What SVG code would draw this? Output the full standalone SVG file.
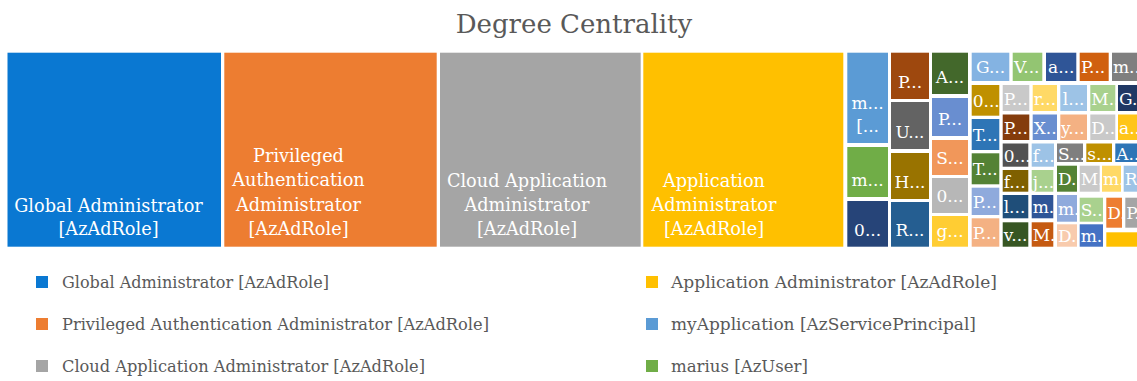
<svg xmlns="http://www.w3.org/2000/svg" width="1137" height="381" viewBox="0 0 1137 381">
<style>
text{font-family:"DejaVu Serif","Liberation Serif",serif}
.title{font-size:26px;fill:#595959;text-anchor:middle}
.lbl{font-size:17.7px;fill:#fff;text-anchor:middle}
.s{font-size:17px;fill:#fff}
.m{text-anchor:middle}
.leg{font-size:16.3px;fill:#595959}
</style>
<rect width="1137" height="381" fill="#fff"/>
<text class="title" x="574" y="33">Degree Centrality</text>
<g id="connectors"/>
<g id="n-global"><rect x="7.5" y="52.7" width="213.5" height="194" fill="#0A78D2"/>
<text class="lbl" x="108.5" y="211.5">Global Administrator</text><text class="lbl" x="108.5" y="235">[AzAdRole]</text></g>
<g id="n-privauth"><rect x="224.3" y="52.7" width="212.4" height="194" fill="#ED7D31"/>
<text class="lbl" x="298.5" y="162">Privileged</text><text class="lbl" x="298.5" y="186.3">Authentication</text><text class="lbl" x="298.5" y="210.6">Administrator</text><text class="lbl" x="298.5" y="235">[AzAdRole]</text></g>
<g id="n-cloudapp"><rect x="440" y="52.7" width="200.7" height="194" fill="#A5A5A5"/>
<text class="lbl" x="527" y="187">Cloud Application</text><text class="lbl" x="527" y="211">Administrator</text><text class="lbl" x="527" y="235">[AzAdRole]</text></g>
<g id="n-appadmin"><rect x="643.3" y="52.7" width="200" height="194" fill="#FFC000"/>
<text class="lbl" x="714" y="187">Application</text><text class="lbl" x="714" y="211">Administrator</text><text class="lbl" x="714" y="235">[AzAdRole]</text></g>
<g id="n-myapp"><rect x="847.3" y="52.7" width="40.7" height="90.3" fill="#5B9BD5"/><text class="s m" x="867.6" y="108.5">m...</text><text class="s m" x="867.6" y="132">[...</text></g>
<g id="n-marius"><rect x="847.3" y="147" width="40.7" height="50" fill="#70AD47"/><text class="s m" x="867.6" y="186">m...</text></g>
<g id="n-t3"><rect x="847.3" y="201" width="40.7" height="45.7" fill="#264478"/><text class="s m" x="867.6" y="235.7">0...</text></g>
<g id="n-t4"><rect x="891" y="52.7" width="38" height="46.3" fill="#9E480E"/><text class="s m" x="910" y="88">P...</text></g>
<g id="n-t5"><rect x="891" y="102" width="38" height="47" fill="#636363"/><text class="s m" x="910" y="137.5">U...</text></g>
<g id="n-t6"><rect x="891" y="153" width="38" height="46" fill="#997300"/><text class="s m" x="910" y="188">H...</text></g>
<g id="n-t7"><rect x="891" y="202" width="38" height="44.7" fill="#255E91"/><text class="s m" x="910" y="235.7">R...</text></g>
<g id="n-t8"><rect x="932" y="52.7" width="36" height="41.3" fill="#43682B"/><text class="s m" x="950" y="83">A...</text></g>
<g id="n-t9"><rect x="932" y="98" width="36" height="38" fill="#698ED0"/><text class="s m" x="950" y="125">P...</text></g>
<g id="n-t10"><rect x="932" y="140" width="36" height="35" fill="#F1975A"/><text class="s m" x="950" y="164">S...</text></g>
<g id="n-t11"><rect x="932" y="178" width="36" height="35" fill="#B7B7B7"/><text class="s m" x="950" y="202">0...</text></g>
<g id="n-t12"><rect x="932" y="216" width="36" height="30.7" fill="#FFCD33"/><text class="s m" x="950" y="237">g...</text></g>
<g id="n-t13"><rect x="971.7" y="52.7" width="37.6" height="28.3" fill="#84B3E2"/><text class="s m" x="990.5" y="73">G...</text></g>
<g id="n-t14"><rect x="1012.7" y="52.7" width="29.6" height="28.3" fill="#93C572"/><text class="s" x="1014" y="73">V...</text></g>
<g id="n-t15"><rect x="1046" y="52.7" width="30.3" height="28.3" fill="#2F5597"/><text class="s m" x="1061.2" y="73">a...</text></g>
<g id="n-t16"><rect x="1079.7" y="52.7" width="29" height="28.3" fill="#D0600F"/><text class="s" x="1081" y="73">P...</text></g>
<g id="n-t17"><rect x="1112" y="52.7" width="25" height="28.3" fill="#7F7F7F"/><text class="s" x="1113" y="73">m...</text></g>
<g id="n-t18"><rect x="971.7" y="85" width="27.6" height="30.7" fill="#BF9000"/><text class="s" x="972.7" y="106.5">0...</text></g>
<g id="n-t19"><rect x="1002.7" y="85" width="26.6" height="26" fill="#C9C9C9"/><text class="s" x="1003.7" y="104.5">P...</text></g>
<g id="n-t20"><rect x="1032.7" y="85" width="24.3" height="26" fill="#FFD966"/><text class="s" x="1033.7" y="104.5">r...</text></g>
<g id="n-t21"><rect x="1060.3" y="85" width="26.7" height="26" fill="#9DC3E6"/><text class="s m" x="1073.7" y="104.5">l...</text></g>
<g id="n-t22"><rect x="1090.3" y="85" width="25" height="26" fill="#A9D18E"/><text class="s" x="1091.3" y="104.5">M..</text></g>
<g id="n-t23"><rect x="1118" y="85" width="19" height="26" fill="#203864"/><text class="s" x="1119" y="104.5">G...</text></g>
<g id="n-t24"><rect x="971.7" y="119" width="27.6" height="31" fill="#2E75B6"/><text class="s" x="972.7" y="141">T...</text></g>
<g id="n-t25"><rect x="1002.7" y="114.5" width="26.6" height="25.5" fill="#843C0C"/><text class="s" x="1003.7" y="134">P...</text></g>
<g id="n-t26"><rect x="1032.7" y="114.5" width="24.3" height="25.5" fill="#698ED0"/><text class="s" x="1033.7" y="134">X...</text></g>
<g id="n-t27"><rect x="1060.3" y="114.5" width="26.7" height="25.5" fill="#F4B183"/><text class="s" x="1061" y="134">y...</text></g>
<g id="n-t28"><rect x="1090.3" y="114.5" width="25" height="25.5" fill="#C9C9C9"/><text class="s" x="1091.3" y="134">D...</text></g>
<g id="n-t29"><rect x="1118" y="114.5" width="19" height="25.5" fill="#FFC51A"/><text class="s" x="1119" y="134">a...</text></g>
<g id="n-t30"><rect x="971.7" y="153.3" width="27.6" height="31" fill="#548235"/><text class="s" x="972.7" y="175.3">T...</text></g>
<g id="n-t31"><rect x="1002.7" y="143.5" width="25.6" height="23.2" fill="#525252"/><text class="s" x="1003.7" y="161.6">0...</text></g>
<g id="n-t32"><rect x="1031.7" y="143.5" width="22.3" height="23.2" fill="#9DC3E6"/><text class="s" x="1032.7" y="161.6">f...</text></g>
<g id="n-t33"><rect x="1057" y="143.5" width="26" height="18.5" fill="#7F7F7F"/><text class="s" x="1058" y="159.5">S...</text></g>
<g id="n-t34"><rect x="1086.3" y="143.5" width="25.7" height="18.5" fill="#BF9000"/><text class="s" x="1087.3" y="159.5">s...</text></g>
<g id="n-t35"><rect x="1115.3" y="143.5" width="21.7" height="18.5" fill="#2E75B6"/><text class="s" x="1116.3" y="159.5">A...</text></g>
<g id="n-t36"><rect x="1002.7" y="170" width="25.6" height="21.7" fill="#7F6000"/><text class="s" x="1003.7" y="187.5">f...</text></g>
<g id="n-t37"><rect x="1031.7" y="170" width="21.6" height="21.7" fill="#A9D18E"/><text class="s" x="1032.7" y="187.5">j...</text></g>
<g id="n-t38"><rect x="1057" y="165.7" width="20" height="26" fill="#548235"/><text class="s" x="1058" y="185.2">D..</text></g>
<g id="n-t39"><rect x="1079.7" y="165.7" width="20" height="26" fill="#C9C9C9"/><text class="s" x="1080.7" y="185.2">M..</text></g>
<g id="n-t40"><rect x="1102" y="165.7" width="19" height="26" fill="#FFD966"/><text class="s" x="1103" y="185.2">m..</text></g>
<g id="n-t41"><rect x="1123.7" y="165.7" width="13.3" height="26" fill="#9DC3E6"/><text class="s" x="1124.7" y="185.2">R..</text></g>
<g id="n-t42"><rect x="971.7" y="187.7" width="27.6" height="27.3" fill="#8FAADC"/><text class="s" x="972.7" y="207.8">P...</text></g>
<g id="n-t43"><rect x="1002.7" y="195" width="25.6" height="23.3" fill="#1F4E79"/><text class="s" x="1003.7" y="213.2">l...</text></g>
<g id="n-t44"><rect x="1031.7" y="195" width="21.6" height="23.3" fill="#2F5597"/><text class="s" x="1032.7" y="213.2">m..</text></g>
<g id="n-t45"><rect x="1057" y="195" width="20" height="26.7" fill="#8FAADC"/><text class="s" x="1058" y="214.8">m..</text></g>
<g id="n-t46"><rect x="1079.7" y="197.7" width="23.3" height="24" fill="#A9D18E"/><text class="s" x="1080.7" y="216.2">S..</text></g>
<g id="n-t47"><rect x="1106.3" y="197.7" width="15.7" height="30" fill="#ED7D31"/><text class="s" x="1107.3" y="219.2">D..</text></g>
<g id="n-t48"><rect x="1125.3" y="197.7" width="11.7" height="30" fill="#A5A5A5"/><text class="s" x="1126.3" y="219.2">P..</text></g>
<g id="n-t49"><rect x="971.7" y="218.3" width="27.6" height="28.4" fill="#F4B183"/><text class="s" x="972.7" y="239">P...</text></g>
<g id="n-t50"><rect x="1002.7" y="222.3" width="25.6" height="24.4" fill="#375623"/><text class="s" x="1003.7" y="241">v...</text></g>
<g id="n-t51"><rect x="1031.7" y="222.3" width="21.6" height="24.4" fill="#C55A11"/><text class="s" x="1032.7" y="241">M...</text></g>
<g id="n-t52"><rect x="1057" y="224.3" width="20" height="22.4" fill="#F8CBAD"/><text class="s" x="1058" y="242">D...</text></g>
<g id="n-t53"><rect x="1079.7" y="224.3" width="23.3" height="22.4" fill="#4472C4"/><text class="s" x="1080.7" y="242">m...</text></g>
<g id="n-t54"><rect x="1106.3" y="232.3" width="30.7" height="14.4" fill="#FFC000"/></g>
<g id="legend">
<rect x="36" y="276" width="12" height="12" fill="#0A78D2"/><text class="leg" x="62" y="288" textLength="267" lengthAdjust="spacingAndGlyphs">Global Administrator [AzAdRole]</text>
<rect x="36" y="318" width="12" height="12" fill="#ED7D31"/><text class="leg" x="62" y="330" textLength="427" lengthAdjust="spacingAndGlyphs">Privileged Authentication Administrator [AzAdRole]</text>
<rect x="36" y="360" width="12" height="12" fill="#A5A5A5"/><text class="leg" x="62" y="372" textLength="363" lengthAdjust="spacingAndGlyphs">Cloud Application Administrator [AzAdRole]</text>
<rect x="646" y="276" width="12" height="12" fill="#FFC000"/><text class="leg" x="671" y="288" textLength="326" lengthAdjust="spacingAndGlyphs">Application Administrator [AzAdRole]</text>
<rect x="646" y="318" width="12" height="12" fill="#5B9BD5"/><text class="leg" x="671" y="330" textLength="305" lengthAdjust="spacingAndGlyphs">myApplication [AzServicePrincipal]</text>
<rect x="646" y="360" width="12" height="12" fill="#70AD47"/><text class="leg" x="671" y="372" textLength="137" lengthAdjust="spacingAndGlyphs">marius [AzUser]</text>
</g>
</svg>
